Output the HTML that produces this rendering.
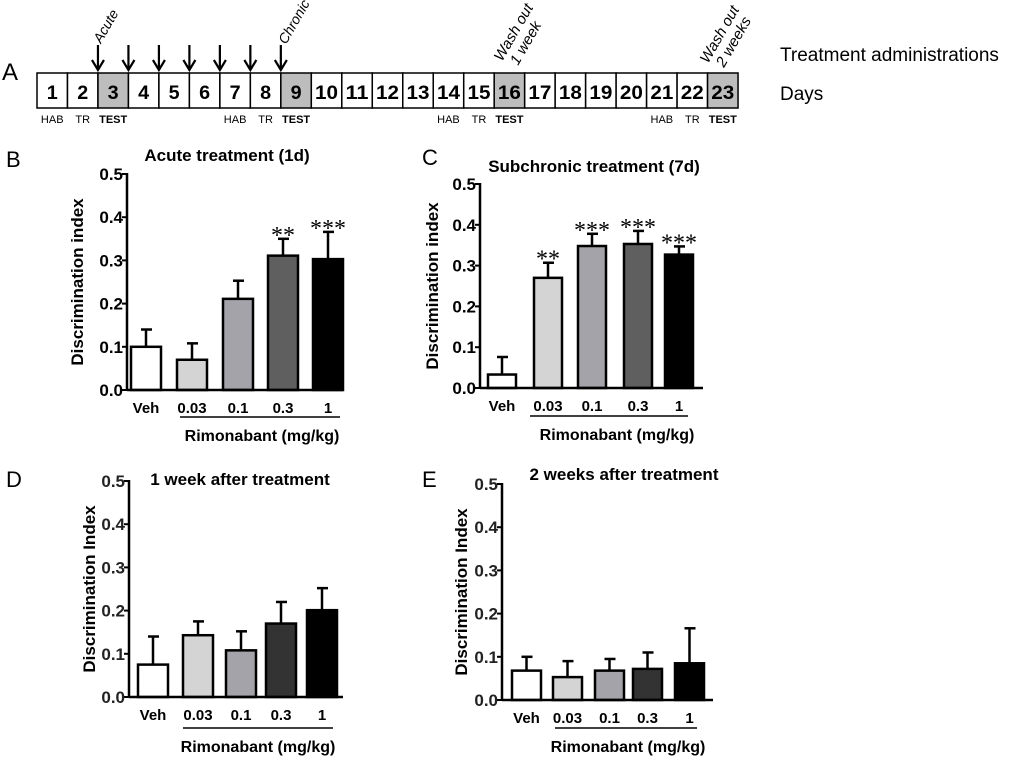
<!DOCTYPE html>
<html><head><meta charset="utf-8"><style>
body{margin:0;background:#fff;}
svg{display:block;font-family:"Liberation Sans",Arial,sans-serif;}
</style></head><body>
<svg id="fig" width="1024" height="761" viewBox="0 0 1024 761">
<g id="timeline">
<text x="2" y="80" font-size="24">A</text>
<text x="780" y="61" font-size="19">Treatment administrations</text>
<text x="780" y="100" font-size="19">Days</text>
</g>
</svg>
<script>
const categories = ["Veh","0.03","0.1","0.3","1"];
const acuteMeans = [0.100,0.070,0.211,0.311,0.303];
const acuteErr   = [0.140,0.108,0.253,0.350,0.366];
const acuteStars = ["","","","**","***"];
const subMeans = [0.033,0.270,0.348,0.353,0.327];
const subErr   = [0.076,0.307,0.378,0.385,0.347];
const subStars = ["","**","***","***","***"];
const week1Means = [0.075,0.143,0.108,0.170,0.201];
const week1Err   = [0.140,0.175,0.152,0.220,0.252];
const week2Means = [0.068,0.053,0.068,0.072,0.085];
const week2Err   = [0.100,0.090,0.095,0.110,0.166];
const yTicks = ["0.0","0.1","0.2","0.3","0.4","0.5"];
const days = ["1","2","3","4","5","6","7","8","9","10","11","12","13","14","15","16","17","18","19","20","21","22","23"];
const testDays = [3,9,16,23];
const arrowDays = [3,4,5,6,7,8,9];
const NS="http://www.w3.org/2000/svg";
const svg=document.getElementById('fig');
function mk(tag,attrs,parent,txt){const e=document.createElementNS(NS,tag);for(const k in attrs)e.setAttribute(k,attrs[k]);if(txt!==undefined)e.textContent=txt;(parent||svg).appendChild(e);return e;}

const tl=document.getElementById('timeline');
const tx0=37,cw=30.48,ty=73,th=35;
days.forEach((d,i)=>{
  const x=tx0+i*cw;
  const c=mk('rect',{x:x,y:ty,width:cw,height:th,fill:testDays.includes(+d)?'#bdbdbd':'#fff',stroke:'#000','stroke-width':1.5},tl);
  
  
  const t=mk('text',{x:x+cw/2,y:ty+26,'text-anchor':'middle','font-size':19,'font-weight':'bold',textLength:d.length>1?23:11,lengthAdjust:'spacingAndGlyphs'},tl,d);
  
  
});
[[1,2,3],[7,8,9],[14,15,16],[21,22,23]].forEach(g=>{
  ['HAB','TR','TEST'].forEach((lab,j)=>{
    const t=mk('text',{x:tx0+(g[j]-0.5)*cw,y:123,'text-anchor':'middle','font-size':11,'font-weight':lab==='TEST'?'bold':'normal'},tl,lab);
    
    
  });
});
arrowDays.forEach(d=>{
  const x=tx0+(d-1)*cw;
  const a=mk('path',{d:`M${x},45 L${x},69 M${x-6},60 L${x},70 L${x+6},60`,stroke:'#000','stroke-width':2.2,fill:'none'},tl);
  
  
});
[["Acute",[101,44],14],["Chronic",[286,45],14],["Wash out",[502,62],15],["1 week",[518,66],15],["Wash out",[708,64],15],["2 weeks",[724,68],15]].forEach(([s,p,fs])=>{
  const t=mk('text',{x:p[0],y:p[1],'font-size':fs,'font-style':'italic',transform:`rotate(-60 ${p[0]} ${p[1]})`},tl,s);
  
  
});

const fills=['#fff','#d4d4d4','#a4a3a9','#5f5f5f','#000'];
const fillsDE=['#fff','#d4d4d4','#a4a3a9','#333','#000'];
function panel(o,means,errs,stars){
  const g=mk('g',{});
  
  
  const sy=v=>o.y0-(o.y0-o.y5)*v/0.5;
  mk('text',{x:o.lx,y:o.ly,'font-size':22},g,o.letter);
  const ti=mk('text',{x:o.tx,y:o.ty,'text-anchor':'middle','font-size':17,'font-weight':'bold'},g,o.title);
  
  
  means.forEach((m,i)=>{
    const x=o.bx[i],w=o.bw;
    const e=mk('line',{x1:x+w/2,x2:x+w/2,y1:sy(m),y2:sy(errs[i]),stroke:'#000','stroke-width':2.5},g);
    
    
    const c=mk('line',{x1:x+w/2-5,x2:x+w/2+6,y1:sy(errs[i]),y2:sy(errs[i]),stroke:'#000','stroke-width':2.5},g);
    
    
    const r=mk('rect',{x:x,y:sy(m),width:w,height:o.y0-sy(m),fill:o.fills[i],stroke:'#000','stroke-width':2.5},g);
    
    
    const lab=mk('text',{x:x+w/2,y:o.y0+23,'text-anchor':'middle','font-size':15,'font-weight':'bold'},g,categories[i]);
    
    
    if(stars&&stars[i]){
      const s=mk('text',{x:x+w/2,y:sy(errs[i])+4,'text-anchor':'middle','font-size':24,'font-family':'Liberation Serif, serif'},g,stars[i]);
      
      
    }
  });
  yTicks.forEach(t=>{
    const y=sy(+t);
    mk('line',{x1:o.ax-5,x2:o.ax,y1:y,y2:y,stroke:'#000','stroke-width':2},g);
    const tt=mk('text',{x:o.ax-4,y:y+6,'text-anchor':'end','font-size':17,'font-weight':'bold',fill:o.tickFill},g,t);
    
    
  });
  const ya=mk('line',{x1:o.ax,x2:o.ax,y1:o.y5-1,y2:o.y0+1,stroke:'#000','stroke-width':2.5},g);
  
  
  const xa=mk('line',{x1:o.ax,x2:o.axEnd,y1:o.y0,y2:o.y0,stroke:'#000','stroke-width':2.5},g);
  
  
  const yt=mk('text',{x:0,y:0,'text-anchor':'middle','font-size':17,'font-weight':'bold',transform:`translate(${o.ytx},${(o.y0+o.y5)/2}) rotate(-90)`},g,o.ytitle);
  
  
  const bl=mk('line',{x1:o.brx[0],x2:o.brx[1],y1:o.bry,y2:o.bry,stroke:'#000','stroke-width':1.5},g);
  
  
  const xt=mk('text',{x:o.rx,y:o.bry+24,'text-anchor':'middle','font-size':16,'font-weight':'bold'},g,'Rimonabant (mg/kg)');
  
  
}
panel({name:'panel-b-acute',letter:'B',lx:6,ly:167,title:'Acute treatment (1d)',tx:227,ty:161,ax:127,axEnd:343,y0:390,y5:174,
  bx:[131,177,223,268,313],bw:30,fills:fills,ytitle:'Discrimination index',ytx:83,brx:[180,340],bry:417,rx:262,tickFill:'#000'},acuteMeans,acuteErr,acuteStars);
panel({name:'panel-c-subchronic',letter:'C',lx:422,ly:165,title:'Subchronic treatment (7d)',tx:594,ty:172,ax:480,axEnd:703,y0:388,y5:184,
  bx:[488,534,578,624,665],bw:28,fills:fills,ytitle:'Discrimination index',ytx:438,brx:[530,688],bry:416,rx:617,tickFill:'#000'},subMeans,subErr,subStars);
panel({name:'panel-d-1week',letter:'D',lx:6,ly:487,title:'1 week after treatment',tx:240,ty:485,ax:129,axEnd:343,y0:697,y5:481,
  bx:[138,183,226,266,307],bw:30,fills:fillsDE,ytitle:'Discrimination Index',ytx:95,brx:[183,333],bry:728,rx:258,tickFill:'#222'},week1Means,week1Err,null);
panel({name:'panel-e-2weeks',letter:'E',lx:422,ly:487,title:'2 weeks after treatment',tx:624,ty:480,ax:502,axEnd:713,y0:700,y5:484,
  bx:[512,553,595,633,675],bw:29,fills:fillsDE,ytitle:'Discrimination Index',ytx:467,brx:[555,697],bry:728,rx:628,tickFill:'#222'},week2Means,week2Err,null);
</script>
</body></html>
